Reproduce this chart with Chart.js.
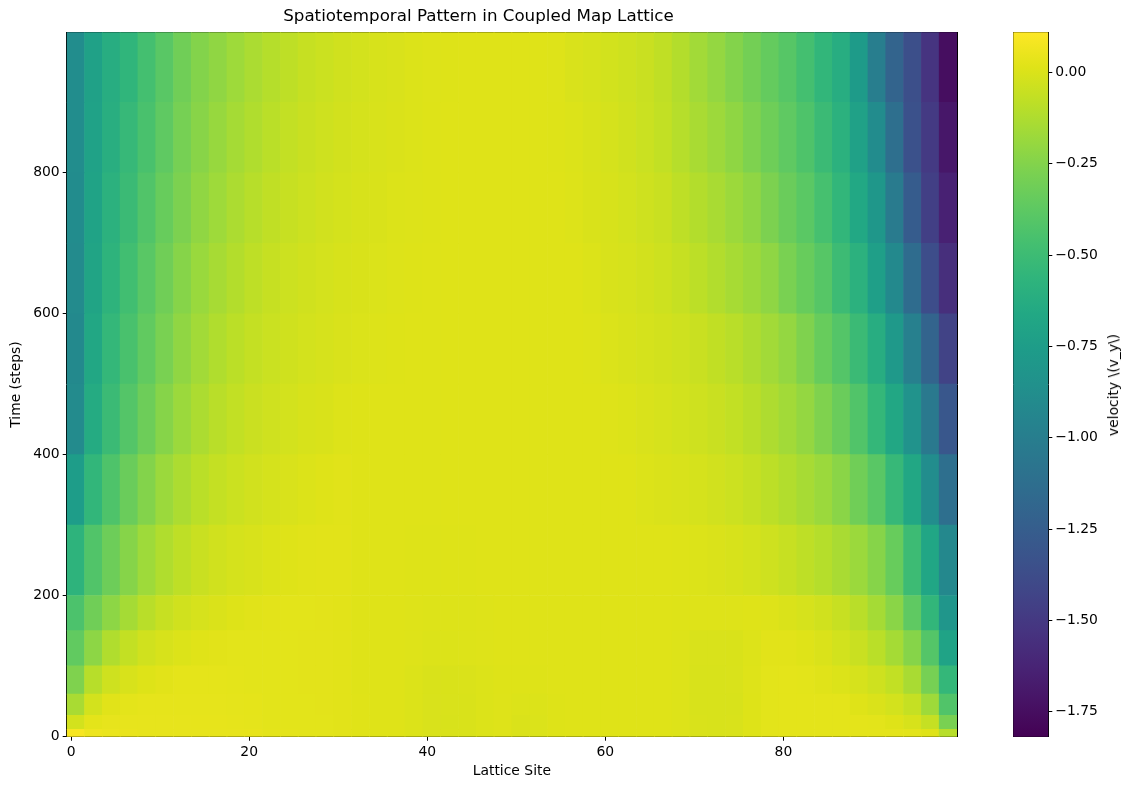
<!DOCTYPE html>
<html>
<head>
<meta charset="utf-8">
<title>Spatiotemporal Pattern in Coupled Map Lattice</title>
<script src="https://cdn.jsdelivr.net/npm/chart.js@4.4.0/dist/chart.umd.min.js"></script>
<style>
  body { margin: 0; background: #fff; }
  #wrap { position: relative; width: 1129px; height: 790px; }
  #main { position: absolute; left: 0; top: 0; }
  #cbar { position: absolute; left: 990px; top: 0; }
  #cblabel {
    position: absolute; left: 1113px; top: 384.5px;
    transform: translate(-50%, -50%) rotate(-90deg);
    font: 13.9px "DejaVu Sans", sans-serif; color: #000; white-space: nowrap;
  }
</style>
</head>
<body>
<div id="wrap">
  <canvas id="main" width="1024" height="790"></canvas>
  <canvas id="cbar" width="139" height="790"></canvas>
  <div id="cblabel">velocity \(v_y\)</div>
</div>
<script>
// lattice columns (2 sites per cell, centre of each cell)
const siteCenters = [0.5, 2.5, 4.5, 6.5, 8.5, 10.5, 12.5, 14.5, 16.5, 18.5,
  20.5, 22.5, 24.5, 26.5, 28.5, 30.5, 32.5, 34.5, 36.5, 38.5,
  40.5, 42.5, 44.5, 46.5, 48.5, 50.5, 52.5, 54.5, 56.5, 58.5,
  60.5, 62.5, 64.5, 66.5, 68.5, 70.5, 72.5, 74.5, 76.5, 78.5,
  80.5, 82.5, 84.5, 86.5, 88.5, 90.5, 92.5, 94.5, 96.5, 98.5];

// time bands (row edges, steps)
const timeEdges = [-0.5, 10, 30, 60, 100, 150, 200, 300, 400, 500, 600, 700, 800, 900, 999.5];

// velocity, one array per time band
const vel_0_10 = [0.09, 0.06, 0.05, 0.045, 0.04, 0.04, 0.04, 0.04, 0.04, 0.04,
  0.038, 0.03, 0.03, 0.028, 0.026, 0.024, 0.016, 0.014, 0.014, 0.006,
  -0.004, -0.004, -0.002, 0.006, 0.01, 0.0, 0.002, 0.012, 0.014, 0.014,
  0.014, 0.014, 0.014, 0.014, 0.008, -0.004, -0.006, -0.004, 0.012, 0.028,
  0.03, 0.03, 0.03, 0.03, 0.03, 0.03, 0.03, 0.028, 0.015, -0.10];
const vel_10_30 = [-0.02, 0.03, 0.04, 0.04, 0.04, 0.04, 0.04, 0.038, 0.038, 0.036,
  0.034, 0.028, 0.028, 0.027, 0.026, 0.024, 0.016, 0.014, 0.014, 0.006,
  -0.004, -0.005, -0.003, 0.006, 0.01, 0.0, 0.002, 0.012, 0.014, 0.014,
  0.014, 0.014, 0.014, 0.014, 0.008, -0.004, -0.006, -0.004, 0.012, 0.028,
  0.03, 0.03, 0.03, 0.03, 0.03, 0.028, 0.015, -0.01, -0.06, -0.28];
const vel_30_60 = [-0.14, -0.02, 0.02, 0.03, 0.036, 0.036, 0.036, 0.036, 0.035, 0.034,
  0.032, 0.027, 0.026, 0.026, 0.025, 0.024, 0.016, 0.014, 0.014, 0.006,
  -0.004, -0.004, -0.002, 0.006, 0.01, 0.004, 0.005, 0.012, 0.014, 0.014,
  0.014, 0.014, 0.014, 0.014, 0.008, -0.005, -0.006, -0.005, 0.012, 0.028,
  0.03, 0.03, 0.03, 0.03, 0.015, 0.0, -0.02, -0.06, -0.17, -0.42];
const vel_60_100 = [-0.26, -0.10, -0.035, -0.005, 0.012, 0.024, 0.032, 0.032, 0.032, 0.03,
  0.028, 0.026, 0.026, 0.025, 0.025, 0.024, 0.015, 0.014, 0.014, 0.006,
  -0.003, -0.003, -0.001, 0.006, 0.012, 0.012, 0.012, 0.013, 0.014, 0.014,
  0.014, 0.014, 0.014, 0.014, 0.008, -0.005, -0.005, -0.004, 0.01, 0.028,
  0.03, 0.028, 0.018, 0.005, -0.012, -0.035, -0.07, -0.14, -0.29, -0.54];
const vel_100_150 = [-0.36, -0.22, -0.12, -0.065, -0.03, -0.01, 0.005, 0.016, 0.024, 0.027,
  0.027, 0.026, 0.026, 0.025, 0.025, 0.024, 0.015, 0.014, 0.014, 0.01,
  0.006, 0.006, 0.007, 0.01, 0.014, 0.014, 0.014, 0.014, 0.014, 0.014,
  0.014, 0.014, 0.014, 0.014, 0.008, -0.004, -0.004, -0.002, 0.008, 0.024,
  0.022, 0.014, 0.0, -0.022, -0.05, -0.09, -0.15, -0.24, -0.41, -0.70];
const vel_150_200 = [-0.44, -0.31, -0.22, -0.15, -0.095, -0.055, -0.03, -0.012, 0.0, 0.012,
  0.02, 0.025, 0.026, 0.026, 0.025, 0.024, 0.015, 0.014, 0.014, 0.01,
  0.008, 0.008, 0.008, 0.01, 0.014, 0.014, 0.014, 0.014, 0.014, 0.014,
  0.014, 0.014, 0.014, 0.014, 0.012, 0.01, 0.01, 0.01, 0.014, 0.01,
  0.0, -0.012, -0.03, -0.055, -0.095, -0.15, -0.23, -0.37, -0.55, -0.81];
const vel_200_300 = [-0.57, -0.42, -0.32, -0.24, -0.17, -0.12, -0.08, -0.05, -0.03, -0.016,
  -0.005, 0.005, 0.014, 0.02, 0.024, 0.024, 0.015, 0.014, 0.014, 0.012,
  0.012, 0.012, 0.012, 0.013, 0.014, 0.014, 0.014, 0.014, 0.014, 0.014,
  0.014, 0.014, 0.014, 0.014, 0.012, 0.006, 0.0, -0.008, -0.02, -0.035,
  -0.055, -0.08, -0.105, -0.14, -0.18, -0.24, -0.34, -0.50, -0.68, -0.92];
const vel_300_400 = [-0.75, -0.55, -0.43, -0.33, -0.25, -0.18, -0.13, -0.09, -0.062, -0.042,
  -0.026, -0.014, -0.004, 0.006, 0.014, 0.02, 0.015, 0.014, 0.014, 0.014,
  0.014, 0.014, 0.014, 0.014, 0.014, 0.014, 0.014, 0.014, 0.014, 0.014,
  0.014, 0.014, 0.006, 0.0, -0.007, -0.015, -0.026, -0.04, -0.06, -0.085,
  -0.115, -0.145, -0.18, -0.23, -0.31, -0.39, -0.53, -0.67, -0.88, -1.12];
const vel_400_500 = [-0.90, -0.64, -0.51, -0.41, -0.32, -0.24, -0.18, -0.13, -0.095, -0.068,
  -0.047, -0.032, -0.02, -0.01, -0.002, 0.008, 0.012, 0.014, 0.014, 0.014,
  0.014, 0.014, 0.014, 0.014, 0.014, 0.014, 0.014, 0.014, 0.014, 0.014,
  0.01, 0.004, -0.004, -0.012, -0.022, -0.035, -0.05, -0.07, -0.095, -0.125,
  -0.16, -0.20, -0.26, -0.33, -0.42, -0.54, -0.67, -0.84, -1.04, -1.30];
const vel_500_600 = [-0.91, -0.67, -0.54, -0.45, -0.36, -0.28, -0.21, -0.16, -0.12, -0.088,
  -0.063, -0.045, -0.031, -0.02, -0.011, -0.004, 0.002, 0.008, 0.012, 0.014,
  0.014, 0.014, 0.014, 0.014, 0.014, 0.014, 0.014, 0.014, 0.014, 0.01,
  0.002, -0.006, -0.014, -0.024, -0.036, -0.05, -0.072, -0.095, -0.125, -0.16,
  -0.20, -0.26, -0.34, -0.41, -0.51, -0.62, -0.78, -0.98, -1.20, -1.44];
const vel_600_700 = [-0.90, -0.69, -0.57, -0.48, -0.39, -0.31, -0.24, -0.185, -0.145, -0.11,
  -0.08, -0.058, -0.041, -0.028, -0.018, -0.01, -0.003, 0.003, 0.008, 0.011,
  0.014, 0.014, 0.014, 0.014, 0.014, 0.014, 0.014, 0.014, 0.014, 0.006,
  -0.005, -0.013, -0.024, -0.038, -0.058, -0.085, -0.115, -0.145, -0.175, -0.215,
  -0.28, -0.34, -0.40, -0.50, -0.59, -0.73, -0.91, -1.14, -1.37, -1.56];
const vel_700_800 = [-0.89, -0.70, -0.59, -0.51, -0.42, -0.34, -0.27, -0.21, -0.17, -0.13,
  -0.10, -0.075, -0.055, -0.039, -0.027, -0.017, -0.009, -0.002, 0.004, 0.009,
  0.012, 0.014, 0.014, 0.014, 0.014, 0.014, 0.014, 0.014, 0.008, -0.002,
  -0.01, -0.02, -0.034, -0.05, -0.08, -0.11, -0.14, -0.175, -0.215, -0.27,
  -0.33, -0.385, -0.46, -0.55, -0.66, -0.80, -1.02, -1.26, -1.46, -1.64];
const vel_800_900 = [-0.88, -0.71, -0.61, -0.53, -0.45, -0.37, -0.29, -0.235, -0.19, -0.15,
  -0.12, -0.09, -0.066, -0.048, -0.034, -0.023, -0.014, -0.006, 0.0, 0.006,
  0.011, 0.013, 0.014, 0.014, 0.014, 0.014, 0.014, 0.012, 0.004, -0.005,
  -0.015, -0.028, -0.045, -0.068, -0.103, -0.14, -0.174, -0.213, -0.265, -0.317,
  -0.37, -0.43, -0.51, -0.59, -0.72, -0.89, -1.12, -1.34, -1.49, -1.70];
const vel_900_1000 = [-0.88, -0.72, -0.62, -0.56, -0.47, -0.39, -0.31, -0.25, -0.21, -0.17,
  -0.135, -0.105, -0.08, -0.058, -0.042, -0.03, -0.02, -0.01, -0.004, 0.004,
  0.01, 0.012, 0.013, 0.014, 0.014, 0.014, 0.013, 0.01, -0.004, -0.013,
  -0.022, -0.035, -0.05, -0.075, -0.11, -0.16, -0.20, -0.25, -0.30, -0.35,
  -0.40, -0.47, -0.55, -0.62, -0.77, -1.00, -1.20, -1.36, -1.53, -1.75];

const rows = [vel_0_10, vel_10_30, vel_30_60, vel_60_100, vel_100_150, vel_150_200,
  vel_200_300, vel_300_400, vel_400_500, vel_500_600, vel_600_700, vel_700_800,
  vel_800_900, vel_900_1000];

// ticks
const xTicks = [0, 20, 40, 60, 80];
const yTicks = [0, 200, 400, 600, 800];
const cbTicks = [0, -0.25, -0.5, -0.75, -1.0, -1.25, -1.5, -1.75];
const cbMin = -1.818, cbMax = 0.11;

// viridis colormap, 21 stops
const viridisStops = ['#440154', '#471365', '#482475', '#463480', '#414487', '#3b528b',
  '#355f8d', '#2f6c8e', '#2a788e', '#25848e', '#21918c', '#1e9c89', '#22a884',
  '#2fb47c', '#44bf70', '#5ec962', '#7ad151', '#9bd93c', '#bddf26', '#dfe318', '#fde725'];

function hexRgb(h) {
  return [parseInt(h.slice(1, 3), 16), parseInt(h.slice(3, 5), 16), parseInt(h.slice(5, 7), 16)];
}
const stopRgb = viridisStops.map(hexRgb);

function viridis(v) {
  let n = (v - cbMin) / (cbMax - cbMin);
  n = Math.max(0, Math.min(1, n)) * (stopRgb.length - 1);
  const i = Math.min(Math.floor(n), stopRgb.length - 2);
  const f = n - i;
  const a = stopRgb[i], b = stopRgb[i + 1];
  const c = a.map((ch, j) => Math.round(ch + (b[j] - ch) * f));
  return `rgb(${c[0]},${c[1]},${c[2]})`;
}

Chart.defaults.font.family = "'DejaVu Sans', sans-serif";
Chart.defaults.font.size = 13.9;
Chart.defaults.color = '#000';

const tickGrid = { display: true, drawOnChartArea: false, drawTicks: true, tickLength: 4, color: '#000', offset: false };
const blackBorder = { display: true, color: '#000', width: 1 };
const frameAxis = (pos, fit) => ({
  type: 'linear', position: pos, display: true, z: 1,
  afterBuildTicks: s => { s.ticks = []; },
  afterFit: fit,
  ticks: { display: false }, grid: { display: false, offset: false }, border: blackBorder
});

const datasets = rows.map((vals, r) => ({
  data: vals.map((v, k) => ({ x: siteCenters[k], y: [timeEdges[r], timeEdges[r + 1]] })),
  backgroundColor: vals.map(viridis),
  borderWidth: 0,
  grouped: false,
  barPercentage: 1,
  categoryPercentage: 1
}));

new Chart(document.getElementById('main'), {
  type: 'bar',
  data: { datasets: datasets },
  options: {
    responsive: false,
    animation: false,
    events: [],
    layout: { padding: { left: 0, right: 67, top: 0, bottom: 0 } },
    plugins: {
      legend: { display: false },
      tooltip: { enabled: false },
      title: {
        display: true,
        text: 'Spatiotemporal Pattern in Coupled Map Lattice',
        font: { size: 16.7, weight: 'normal' },
        color: '#000',
        padding: { top: 7, bottom: 5.3 }
      }
    },
    scales: {
      x: {
        type: 'linear', min: -0.5, max: 99.5, offset: false, z: 1,
        afterBuildTicks: s => { s.ticks = xTicks.map(v => ({ value: v })); },
        afterFit: s => { s.height = 53.3; },
        grid: tickGrid, border: blackBorder,
        ticks: { padding: 3, maxRotation: 0, autoSkip: false },
        title: { display: true, text: 'Lattice Site', padding: { top: 0, bottom: 10 } }
      },
      y: {
        type: 'linear', min: -0.5, max: 999.5, z: 1,
        afterBuildTicks: s => { s.ticks = yTicks.map(v => ({ value: v })); },
        afterFit: s => { s.width = 66.7; },
        grid: tickGrid, border: blackBorder,
        ticks: { padding: 3, autoSkip: false },
        title: { display: true, text: 'Time (steps)', padding: { top: 8, bottom: 0 } }
      },
      x2: frameAxis('top', s => { s.height = 0; }),
      y2: frameAxis('right', s => { s.width = 0; })
    }
  }
});

// colour bar
new Chart(document.getElementById('cbar'), {
  type: 'bar',
  data: {
    datasets: [{
      data: [{ x: 0, y: [cbMin, cbMax] }],
      backgroundColor: ctx => {
        const chart = ctx.chart;
        if (!chart.chartArea) return viridisStops[10];
        const ys = chart.scales.y;
        const g = chart.ctx.createLinearGradient(0, ys.getPixelForValue(cbMin), 0, ys.getPixelForValue(cbMax));
        viridisStops.forEach((c, i) => g.addColorStop(i / (viridisStops.length - 1), c));
        return g;
      },
      borderWidth: 0,
      barPercentage: 1,
      categoryPercentage: 1
    }]
  },
  options: {
    responsive: false,
    animation: false,
    events: [],
    layout: { padding: { left: 23.3, right: 0, top: 32.3, bottom: 53.3 } },
    plugins: { legend: { display: false }, tooltip: { enabled: false } },
    scales: {
      x: Object.assign(frameAxis('bottom', s => { s.height = 0; }), { min: -0.5, max: 0.5, offset: false }),
      y: {
        type: 'linear', position: 'right', min: cbMin, max: cbMax, z: 1,
        afterBuildTicks: s => { s.ticks = cbTicks.map(v => ({ value: v })); },
        afterFit: s => { s.width = 80.7; },
        grid: { display: true, drawOnChartArea: false, drawTicks: true, tickLength: 4, color: '#000' },
        border: blackBorder,
        ticks: {
          padding: 3, autoSkip: false,
          callback: v => (v < 0 ? '\u2212' : '') + Math.abs(v).toFixed(2)
        }
      },
      x2: frameAxis('top', s => { s.height = 0; }),
      y2: frameAxis('left', s => { s.width = 0; })
    }
  }
});
</script>
</body>
</html>
